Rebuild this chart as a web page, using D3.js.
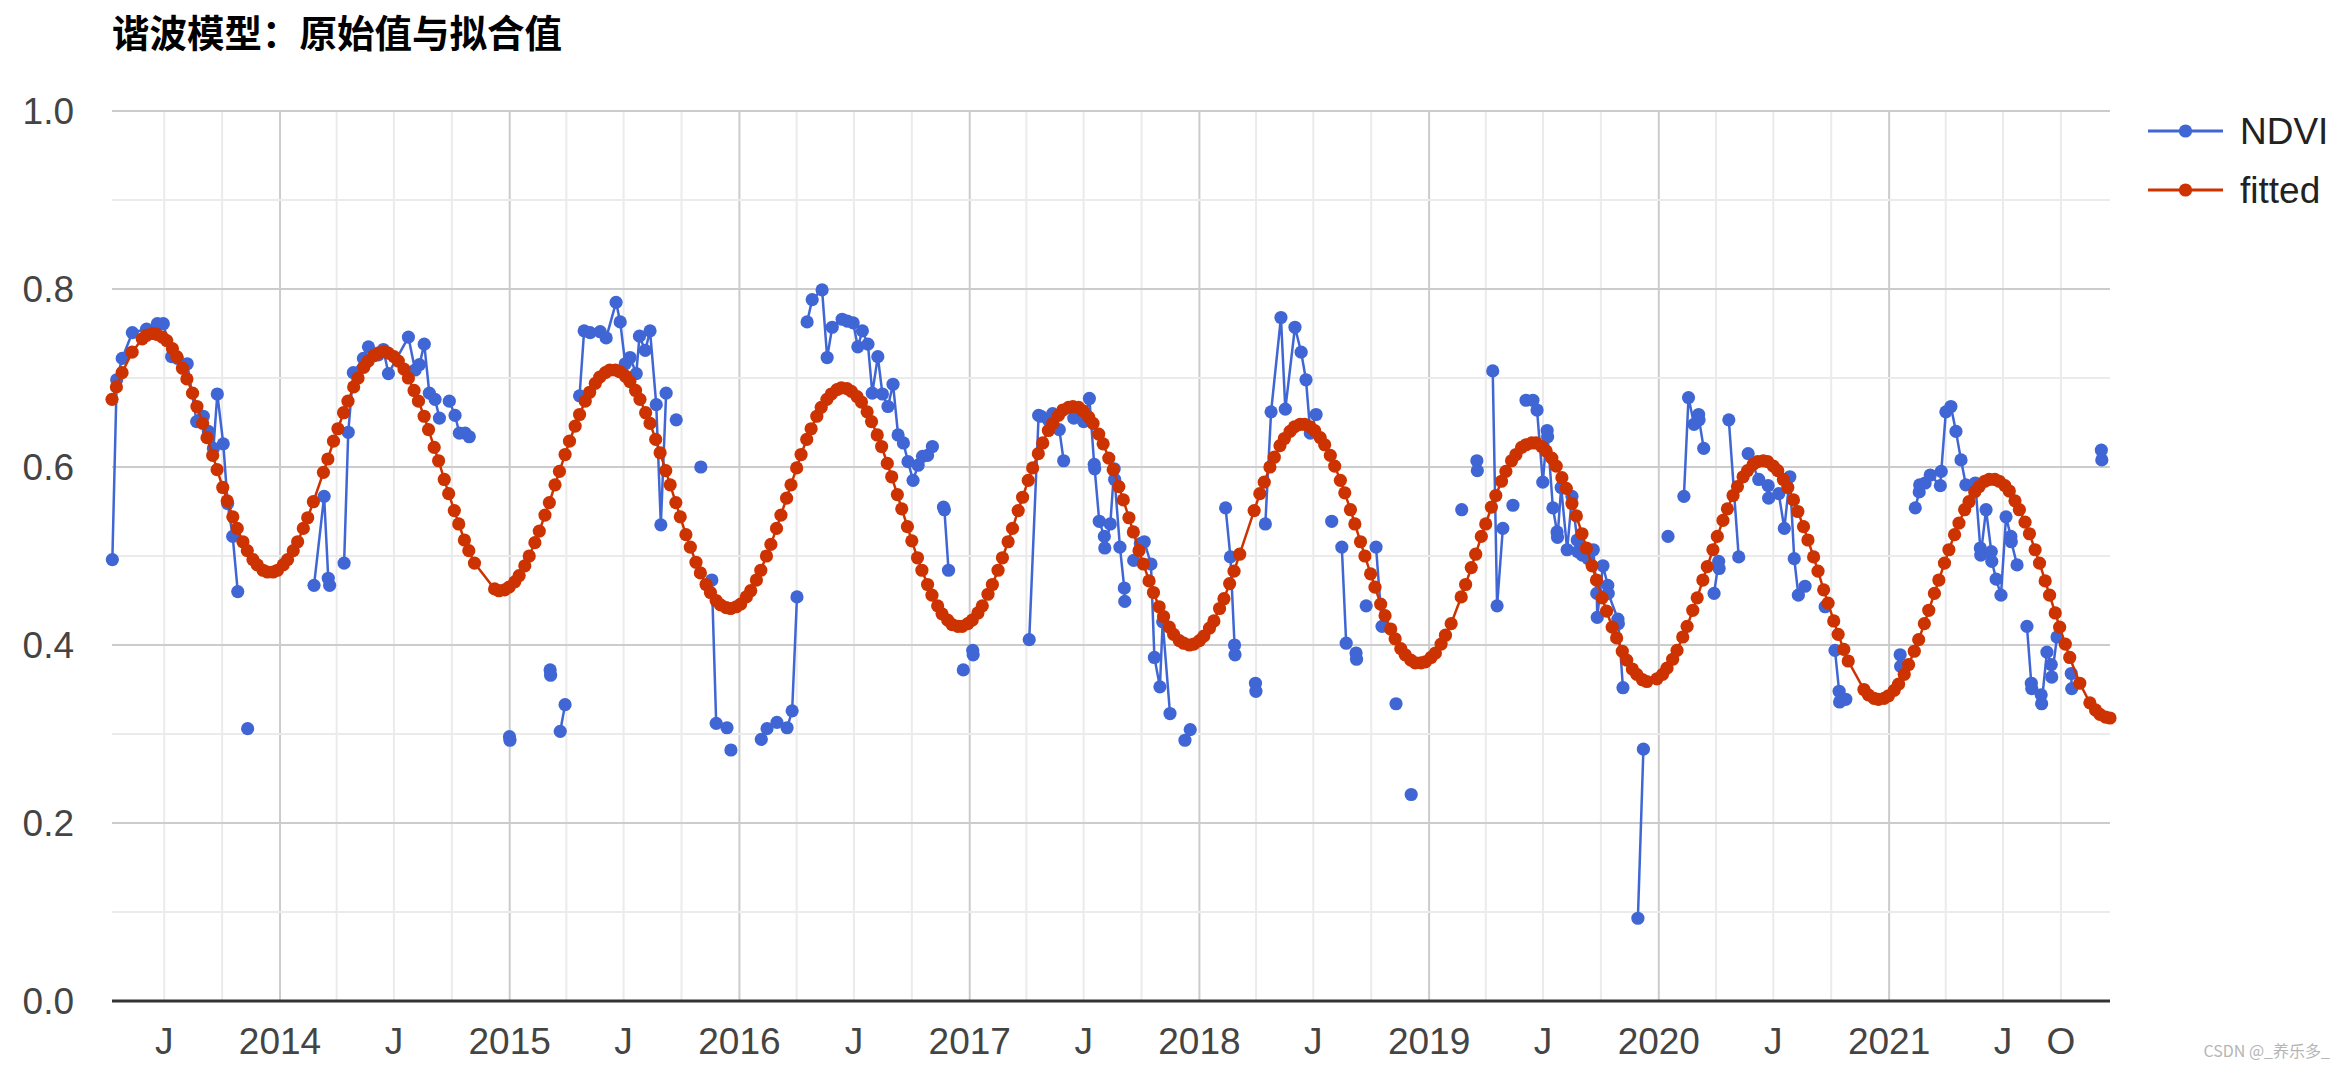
<!DOCTYPE html>
<html>
<head>
<meta charset="utf-8">
<script src="https://cdn.jsdelivr.net/npm/d3@7"></script>
<style>
  body { margin: 0; background: #fff; }
  svg { display: block; font-family: "Liberation Sans", Arial, sans-serif; }
</style>
</head>
<body>
<script>
// Chart texts
const chartTitle = "谐波模型：原始值与拟合值";
const seriesNames = ["NDVI", "fitted"];
const seriesColors = ["#3f66d4", "#cc3300"];

// Acquisition rows: two overlapping Landsat paths, 7 / 9 days apart
const firstAcquisition = "2013-04-09";
const revisitDays = [7, 9];

// Harmonic model value for every acquisition row (null = no image that day)
const fittedValues = [
  0.676, 0.690, 0.706, null, 0.729, null, 0.744, 0.748, 0.750, 0.749, 0.746, 0.742, 0.733, 0.724, 0.711, 0.699,
  0.683, 0.668, 0.649, 0.633, 0.613, 0.597, 0.577, 0.562, 0.544, 0.531, 0.516, 0.506, 0.496, 0.490, 0.484, 0.482,
  0.482, 0.484, 0.490, 0.496, 0.506, 0.516, 0.531, 0.543, 0.561, null, 0.594, 0.609, 0.629, 0.643, 0.661, 0.674,
  0.690, 0.700, 0.712, 0.719, 0.725, 0.728, 0.730, 0.728, 0.724, 0.719, 0.710, 0.700, 0.686, 0.674, 0.657, 0.642,
  0.622, 0.607, 0.586, 0.570, 0.551, 0.536, 0.518, 0.506, 0.492, null, null, null, 0.463, 0.461, 0.462, 0.465,
  0.471, 0.478, 0.489, 0.500, 0.515, 0.528, 0.546, 0.560, 0.580, 0.595, 0.614, 0.629, 0.646, 0.659, 0.674, 0.684,
  0.694, 0.701, 0.706, 0.709, 0.709, 0.707, 0.702, 0.696, 0.686, 0.676, 0.661, 0.649, 0.631, 0.616, 0.596, 0.580,
  0.560, 0.544, 0.524, 0.510, 0.493, 0.481, 0.468, 0.459, 0.450, 0.445, 0.442, 0.441, 0.443, 0.446, 0.454, 0.461,
  0.473, 0.484, 0.500, 0.513, 0.531, 0.546, 0.565, 0.580, 0.599, 0.614, 0.631, 0.643, 0.657, 0.667, 0.676, 0.682,
  0.687, 0.689, 0.688, 0.685, 0.679, 0.673, 0.662, 0.651, 0.636, 0.623, 0.604, 0.589, 0.569, 0.553, 0.533, 0.517,
  0.498, 0.484, 0.468, 0.456, 0.444, 0.435, 0.428, 0.423, 0.421, 0.421, 0.424, 0.428, 0.436, 0.444, 0.457, 0.468,
  0.484, 0.498, 0.516, 0.531, 0.551, 0.566, 0.585, 0.599, 0.615, 0.627, 0.641, 0.649, 0.658, 0.664, 0.667, 0.668,
  0.667, 0.663, 0.656, 0.649, 0.637, 0.626, 0.610, 0.597, 0.578, 0.563, 0.543, 0.527, 0.506, 0.491, 0.472, 0.459,
  0.443, 0.432, 0.420, 0.412, 0.405, 0.402, 0.400, 0.401, 0.405, 0.410, 0.419, 0.427, 0.441, 0.452, 0.469, 0.483,
  0.502, null, null, 0.551, 0.570, 0.583, 0.600, 0.611, 0.624, 0.632, 0.640, 0.645, 0.648, 0.648, 0.645, 0.641,
  0.633, 0.625, 0.613, 0.601, 0.585, 0.571, 0.552, 0.536, 0.516, 0.500, 0.480, 0.465, 0.446, 0.433, 0.418, 0.407,
  0.396, 0.389, 0.383, 0.380, 0.380, 0.381, 0.386, 0.391, 0.401, 0.411, 0.424, null, 0.454, 0.468, 0.487, 0.502,
  0.522, 0.536, 0.555, 0.568, 0.584, 0.595, 0.607, 0.614, 0.622, 0.625, 0.627, 0.627, 0.623, 0.618, 0.610, 0.601,
  0.588, 0.576, 0.559, 0.545, 0.525, 0.509, 0.489, 0.473, 0.453, 0.438, 0.420, 0.408, 0.393, 0.383, 0.373, 0.367,
  0.361, 0.359, null, 0.362, 0.367, 0.374, 0.384, 0.394, 0.409, 0.421, 0.439, 0.453, 0.473, 0.488, 0.507, 0.522,
  0.540, 0.553, 0.568, 0.578, 0.589, 0.596, 0.603, 0.606, 0.607, 0.606, 0.601, 0.596, 0.586, 0.577, 0.563, 0.550,
  0.533, 0.518, 0.499, 0.483, 0.462, 0.447, 0.427, 0.412, 0.395, 0.382, null, null, 0.350, 0.344, 0.340, 0.339,
  0.340, 0.343, 0.349, 0.356, 0.367, 0.378, 0.393, 0.406, 0.424, 0.439, 0.458, 0.473, 0.492, 0.507, 0.524, 0.537,
  0.552, 0.561, 0.572, 0.578, 0.584, 0.586, 0.586, 0.584, 0.579, 0.573, 0.562, 0.552, 0.538, 0.525, 0.507, 0.492,
  0.472, 0.456, 0.436, 0.420, 0.401, 0.386, null, 0.357, null, 0.335, 0.327, 0.322, 0.319, 0.318
];

// Observed NDVI as [decimal year, value]; each inner list is one connected run
const ndviRuns = [
  [[2013.270,0.496],[2013.289,0.698],[2013.313,0.722],[2013.357,0.751],[2013.419,0.755],[2013.466,0.761],[2013.492,0.761],[2013.528,0.724],[2013.553,0.722],[2013.596,0.716],[2013.637,0.651],[2013.666,0.657],[2013.688,0.640],[2013.710,0.621],[2013.727,0.682],[2013.753,0.626],[2013.772,0.559],[2013.794,0.522],[2013.816,0.460]],
  [[2013.859,0.306]],
  [[2014.148,0.467],[2014.192,0.567],[2014.210,0.475],[2014.216,0.467]],
  [[2014.279,0.492],[2014.297,0.639],[2014.319,0.706],[2014.363,0.722],[2014.385,0.735],[2014.428,0.726],[2014.450,0.732],[2014.472,0.705],[2014.559,0.746],[2014.588,0.709],[2014.607,0.715],[2014.628,0.738],[2014.650,0.683],[2014.675,0.676],[2014.694,0.655]],
  [[2014.737,0.674],[2014.762,0.658],[2014.781,0.638],[2014.806,0.638],[2014.824,0.634]],
  [[2014.999,0.297],[2015.001,0.293]],
  [[2015.176,0.372],[2015.178,0.366]],
  [[2015.220,0.303],[2015.241,0.333]],
  [[2015.304,0.680],[2015.324,0.753],[2015.350,0.751],[2015.394,0.752],[2015.420,0.745],[2015.463,0.785],[2015.481,0.763],[2015.503,0.716],[2015.524,0.723],[2015.551,0.705],[2015.565,0.747],[2015.590,0.731],[2015.611,0.753],[2015.638,0.670],[2015.658,0.535],[2015.681,0.683]],
  [[2015.725,0.653]],
  [[2015.832,0.600]],
  [[2015.880,0.473],[2015.899,0.312],[2015.946,0.307]],
  [[2015.963,0.282]],
  [[2016.095,0.294],[2016.120,0.306],[2016.163,0.313],[2016.207,0.307],[2016.229,0.326],[2016.250,0.454]],
  [[2016.294,0.763],[2016.316,0.788],[2016.359,0.799],[2016.381,0.723],[2016.403,0.757],[2016.446,0.766],[2016.468,0.764],[2016.494,0.762],[2016.514,0.735],[2016.534,0.753],[2016.558,0.738],[2016.577,0.683],[2016.601,0.724],[2016.621,0.682],[2016.645,0.668],[2016.667,0.693],[2016.689,0.636],[2016.712,0.627],[2016.732,0.606],[2016.754,0.585],[2016.776,0.602],[2016.795,0.612],[2016.817,0.613],[2016.838,0.623]],
  [[2016.886,0.555],[2016.890,0.552],[2016.908,0.484]],
  [[2016.972,0.372]],
  [[2017.013,0.394],[2017.015,0.389]],
  [[2017.259,0.406],[2017.300,0.658],[2017.310,0.657],[2017.342,0.653],[2017.361,0.660],[2017.390,0.642],[2017.409,0.607]],
  [[2017.453,0.655],[2017.496,0.651],[2017.521,0.677],[2017.542,0.603],[2017.544,0.598],[2017.564,0.539],[2017.586,0.522],[2017.588,0.509],[2017.612,0.536],[2017.629,0.598],[2017.631,0.586],[2017.654,0.510],[2017.673,0.464],[2017.675,0.449]],
  [[2017.714,0.495],[2017.743,0.514],[2017.760,0.516],[2017.789,0.491],[2017.804,0.386],[2017.828,0.353],[2017.840,0.426],[2017.872,0.323]],
  [[2017.937,0.293],[2017.960,0.305]],
  [[2018.114,0.554],[2018.135,0.499],[2018.153,0.400],[2018.155,0.389]],
  [[2018.244,0.357],[2018.246,0.348]],
  [[2018.287,0.536],[2018.312,0.662],[2018.355,0.768],[2018.374,0.665],[2018.416,0.757],[2018.443,0.729],[2018.464,0.698],[2018.483,0.638],[2018.508,0.659]],
  [[2018.576,0.539]],
  [[2018.620,0.510],[2018.639,0.402]],
  [[2018.682,0.391],[2018.684,0.384]],
  [[2018.726,0.444]],
  [[2018.769,0.510],[2018.795,0.421]],
  [[2018.856,0.334]],
  [[2018.922,0.232]],
  [[2019.142,0.552]],
  [[2019.208,0.607],[2019.210,0.596]],
  [[2019.277,0.708],[2019.296,0.444],[2019.321,0.531]],
  [[2019.365,0.557]],
  [[2019.422,0.675],[2019.452,0.675],[2019.470,0.664],[2019.495,0.583],[2019.514,0.641],[2019.516,0.634],[2019.539,0.554],[2019.557,0.527],[2019.559,0.521],[2019.575,0.577],[2019.601,0.507],[2019.622,0.567],[2019.645,0.518],[2019.647,0.505],[2019.667,0.501],[2019.692,0.497],[2019.715,0.507],[2019.730,0.458],[2019.732,0.431],[2019.757,0.489],[2019.778,0.467],[2019.780,0.458],[2019.822,0.429],[2019.824,0.424],[2019.844,0.352]],
  [[2019.909,0.093],[2019.933,0.283]],
  [[2020.040,0.522]],
  [[2020.109,0.567],[2020.129,0.678],[2020.153,0.648],[2020.173,0.659],[2020.175,0.653],[2020.195,0.621]],
  [[2020.240,0.458],[2020.260,0.494],[2020.262,0.486]],
  [[2020.304,0.653],[2020.347,0.499]],
  [[2020.388,0.615],[2020.434,0.586],[2020.475,0.579],[2020.477,0.565],[2020.521,0.570],[2020.545,0.531],[2020.569,0.589],[2020.588,0.497],[2020.606,0.456],[2020.635,0.466]],
  [[2020.722,0.443]],
  [[2020.765,0.394],[2020.783,0.348],[2020.785,0.336],[2020.812,0.339]],
  [[2021.048,0.389],[2021.050,0.376]],
  [[2021.114,0.554],[2021.131,0.572],[2021.133,0.580],[2021.157,0.582],[2021.179,0.591],[2021.223,0.579],[2021.227,0.595],[2021.247,0.662],[2021.269,0.668],[2021.291,0.640],[2021.313,0.608],[2021.334,0.580],[2021.375,0.582],[2021.397,0.509],[2021.399,0.501],[2021.422,0.552],[2021.445,0.505],[2021.447,0.494],[2021.466,0.474],[2021.487,0.456],[2021.509,0.544],[2021.530,0.522],[2021.532,0.516],[2021.557,0.490]],
  [[2021.600,0.421],[2021.619,0.357],[2021.621,0.351],[2021.662,0.344],[2021.664,0.334],[2021.687,0.392],[2021.706,0.378],[2021.708,0.364],[2021.731,0.409]],
  [[2021.793,0.368],[2021.795,0.351]],
  [[2021.924,0.619],[2021.926,0.608]]
];

// Axis ticks
const yTicks = [0, 0.2, 0.4, 0.6, 0.8, 1.0];
const xTickLabels = [
  ["2013-07-01", "J"], ["2014-01-01", "2014"], ["2014-07-01", "J"], ["2015-01-01", "2015"],
  ["2015-07-01", "J"], ["2016-01-01", "2016"], ["2016-07-01", "J"], ["2017-01-01", "2017"],
  ["2017-07-01", "J"], ["2018-01-01", "2018"], ["2018-07-01", "J"], ["2019-01-01", "2019"],
  ["2019-07-01", "J"], ["2020-01-01", "2020"], ["2020-07-01", "J"], ["2021-01-01", "2021"],
  ["2021-07-01", "J"], ["2021-10-01", "O"]
];
const watermark = "CSDN @_养乐多_";

const width = 2342, height = 1068;
const plot = { left: 112, right: 2110, top: 111, bottom: 1001 };
const dotRadius = 6.6;

// decimal year -> UTC date
function yearToDate(t) {
  const y = Math.floor(t);
  const a = Date.UTC(y, 0, 1), b = Date.UTC(y + 1, 0, 1);
  return new Date(a + (t - y) * (b - a));
}

// build acquisition rows
const rowDates = [];
let day = new Date(firstAcquisition + "T00:00:00Z");
fittedValues.forEach((v, i) => {
  rowDates.push(day);
  day = d3.utcDay.offset(day, revisitDays[i % 2]);
});
const fitted = fittedValues
  .map((v, i) => ({ date: rowDates[i], value: v }))
  .filter(d => d.value !== null);

const ndvi = ndviRuns.map(run => run.map(p => ({ date: yearToDate(p[0]), value: p[1] })));

const svg = d3.select("body").append("svg")
  .attr("width", width)
  .attr("height", height);

const x = d3.scaleUtc()
  .domain([rowDates[0], rowDates[rowDates.length - 1]])
  .range([plot.left, plot.right]);

const y = d3.scaleLinear()
  .domain([0, 1])
  .range([plot.bottom, plot.top]);

// vertical gridlines every quarter, darker on January
const grid = svg.append("g");
grid.selectAll(".vgrid")
  .data(x.ticks(d3.utcMonth.every(3)))
  .enter().append("line")
  .attr("x1", d => x(d)).attr("x2", d => x(d))
  .attr("y1", plot.top).attr("y2", plot.bottom)
  .attr("stroke", d => d.getUTCMonth() === 0 ? "#cccccc" : "#ebebeb")
  .attr("stroke-width", 2);

// horizontal gridlines every 0.1, darker on labelled values
grid.selectAll(".hgrid")
  .data(y.ticks(10).filter(v => v > 0))
  .enter().append("line")
  .attr("x1", plot.left).attr("x2", plot.right)
  .attr("y1", d => y(d)).attr("y2", d => y(d))
  .attr("stroke", d => Math.round(d * 10) % 2 === 0 ? "#cccccc" : "#ebebeb")
  .attr("stroke-width", 2);

// baseline
svg.append("line")
  .attr("x1", plot.left).attr("x2", plot.right)
  .attr("y1", y(0)).attr("y2", y(0))
  .attr("stroke", "#333")
  .attr("stroke-width", 3);

// y labels
svg.selectAll(".ylab")
  .data(yTicks)
  .enter().append("text")
  .attr("x", 74)
  .attr("y", d => y(d))
  .attr("dy", "0.36em")
  .attr("text-anchor", "end")
  .attr("font-size", 37)
  .attr("fill", "#444")
  .text(d => d.toFixed(1));

// x labels
svg.selectAll(".xlab")
  .data(xTickLabels)
  .enter().append("text")
  .attr("x", d => x(new Date(d[0] + "T00:00:00Z")))
  .attr("y", 1054)
  .attr("text-anchor", "middle")
  .attr("font-size", 37)
  .attr("fill", "#444")
  .text(d => d[1]);

const line = d3.line()
  .x(d => x(d.date))
  .y(d => y(d.value));

// NDVI series
svg.append("g").selectAll("path")
  .data(ndvi.filter(run => run.length > 1))
  .enter().append("path")
  .attr("d", line)
  .attr("fill", "none")
  .attr("stroke", seriesColors[0])
  .attr("stroke-width", 2.5);

svg.append("g").selectAll("circle")
  .data(ndvi.flat())
  .enter().append("circle")
  .attr("cx", d => x(d.date))
  .attr("cy", d => y(d.value))
  .attr("r", dotRadius)
  .attr("fill", seriesColors[0]);

// fitted series
svg.append("path")
  .datum(fitted)
  .attr("d", line)
  .attr("fill", "none")
  .attr("stroke", seriesColors[1])
  .attr("stroke-width", 2.5);

svg.append("g").selectAll("circle")
  .data(fitted)
  .enter().append("circle")
  .attr("cx", d => x(d.date))
  .attr("cy", d => y(d.value))
  .attr("r", dotRadius)
  .attr("fill", seriesColors[1]);

// title
svg.append("text")
  .attr("x", 112)
  .attr("y", 47)
  .attr("font-family", "'Noto Sans CJK SC', sans-serif")
  .attr("font-size", 37.5)
  .attr("font-weight", "bold")
  .attr("fill", "#000")
  .text(chartTitle);

// legend
const legend = svg.append("g").selectAll("g")
  .data(seriesNames)
  .enter().append("g")
  .attr("transform", (d, i) => `translate(2148, ${131 + i * 59})`);

legend.append("line")
  .attr("x1", 0).attr("x2", 75)
  .attr("stroke", (d, i) => seriesColors[i])
  .attr("stroke-width", 3);

legend.append("circle")
  .attr("cx", 37.5)
  .attr("r", dotRadius)
  .attr("fill", (d, i) => seriesColors[i]);

legend.append("text")
  .attr("x", 92)
  .attr("dy", "0.36em")
  .attr("font-size", 37)
  .attr("fill", "#222")
  .text(d => d);

// watermark
svg.append("text")
  .attr("x", 2330)
  .attr("y", 1057)
  .attr("text-anchor", "end")
  .attr("font-family", "'Noto Sans CJK SC', sans-serif")
  .attr("font-size", 16)
  .attr("fill", "#b5b5b5")
  .text(watermark);
</script>
</body>
</html>
